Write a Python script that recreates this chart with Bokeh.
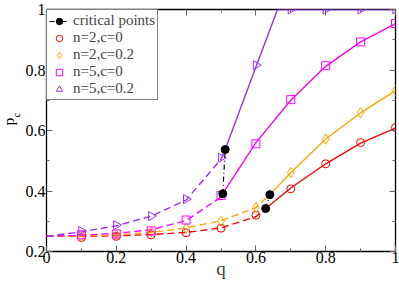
import math
from bokeh.plotting import figure
from bokeh.layouts import row
from bokeh.models import (FixedTicker, CustomJSTickFormatter, LinearAxis, Legend,
                          LegendItem, Range1d)
from bokeh.embed import file_html
from bokeh.resources import INLINE
from bokeh.core.properties import value

# ---------------- data ----------------
q_sim = [0.1, 0.2, 0.3, 0.4, 0.5, 0.6, 0.7, 0.8, 0.9, 1.0]
red_sim = [0.246, 0.250, 0.255, 0.262, 0.277, 0.320, 0.407, 0.490, 0.560, 0.610]
orange_sim = [0.250, 0.255, 0.265, 0.277, 0.300, 0.346, 0.461, 0.572, 0.659, 0.732]
magenta_sim = [0.255, 0.258, 0.268, 0.304, 0.385, 0.556, 0.702, 0.814, 0.893, 0.954]
purple_sim = [0.268, 0.287, 0.317, 0.373, 0.510, 0.816, 1.0, 1.0, 1.0, 1.0]

# theory curves: dashed (below critical point) and solid (above)
red_dash_q = [0.0, 0.1, 0.2, 0.3, 0.4, 0.5, 0.6, 0.628]
red_dash_p = [0.250, 0.250, 0.252, 0.256, 0.263, 0.278, 0.315, 0.342]
red_sol_q = [0.628, 0.7, 0.8, 0.9, 1.0]
red_sol_p = [0.342, 0.410, 0.490, 0.558, 0.608]

orange_dash_q = [0.0, 0.1, 0.2, 0.3, 0.4, 0.5, 0.6, 0.64]
orange_dash_p = [0.250, 0.251, 0.255, 0.263, 0.278, 0.302, 0.345, 0.388]
orange_sol_q = [0.64, 0.7, 0.8, 0.9, 1.0]
orange_sol_p = [0.388, 0.460, 0.572, 0.658, 0.732]

magenta_dash_q = [0.0, 0.1, 0.2, 0.3, 0.4, 0.5, 0.505]
magenta_dash_p = [0.250, 0.254, 0.260, 0.272, 0.302, 0.380, 0.391]
magenta_sol_q = [0.505, 0.6, 0.7, 0.8, 0.9, 1.0]
magenta_sol_p = [0.391, 0.560, 0.700, 0.812, 0.893, 0.953]

purple_dash_q = [0.0, 0.1, 0.2, 0.3, 0.4, 0.5, 0.512]
purple_dash_p = [0.250, 0.265, 0.285, 0.317, 0.370, 0.505, 0.537]
purple_sol_q = [0.512, 0.6, 0.662, 1.0]
purple_sol_p = [0.537, 0.810, 1.0, 1.0]

# critical points (c=0 and c=0.2 for each n)
crit_n2_q = [0.628, 0.640]
crit_n2_p = [0.342, 0.388]
crit_n5_q = [0.505, 0.512]
crit_n5_p = [0.391, 0.537]

x_ticks = [0.0, 0.2, 0.4, 0.6, 0.8, 1.0]
x_minor = [0.1, 0.3, 0.5, 0.7, 0.9]
y_ticks = [0.2, 0.4, 0.6, 0.8, 1.0]
y_minor = [0.3, 0.5, 0.7, 0.9]

series_labels = ["n=2,c=0", "n=2,c=0.2", "n=5,c=0", "n=5,c=0.2"]
x_label = "q"
y_label_main, y_label_sub = "p", "c"

RED, ORANGE, MAGENTA, PURPLE = "#ff0000", "#ffa500", "#ff00ff", "#9b30f0"
SERIF = "Liberation Serif"

# --------------- layout ---------------
TOTAL_W, TOTAL_H = 399, 283
LAB_W = 22
W, H = TOTAL_W - LAB_W, TOTAL_H
BL, BR, BT, BB = 21, 4, 9, 32

p = figure(width=W, height=H, x_range=Range1d(0, 1), y_range=Range1d(0.2, 1),
           output_backend="svg", toolbar_location=None,
           min_border_left=BL, min_border_right=BR, min_border_top=BT, min_border_bottom=BB)
p.grid.visible = False
p.outline_line_color = "black"
p.outline_line_width = 1.3

fmt = CustomJSTickFormatter(code="return String(Math.round(tick*10)/10);")
blank = CustomJSTickFormatter(code="return '';")


def style_axis(ax, font=None, standoff=2):
    ax.axis_line_color = None
    ax.major_tick_in = 6
    ax.major_tick_out = 0
    ax.minor_tick_in = 3
    ax.minor_tick_out = 0
    ax.major_tick_line_color = "#666666"
    ax.minor_tick_line_color = "#666666"
    if font:
        ax.formatter = fmt
        ax.major_label_text_font = font
        ax.major_label_text_font_size = "16px"
        ax.major_label_text_color = "black"
        ax.major_label_standoff = standoff
    else:
        ax.formatter = blank
        ax.major_label_standoff = 0


p.xaxis.ticker = FixedTicker(ticks=x_ticks, minor_ticks=x_minor)
p.yaxis.ticker = FixedTicker(ticks=y_ticks, minor_ticks=y_minor)
style_axis(p.xaxis[0], SERIF, 0)
style_axis(p.yaxis[0], SERIF, 1)
p.xaxis.axis_label = x_label
p.xaxis.axis_label_text_font = SERIF
p.xaxis.axis_label_text_font_style = "normal"
p.xaxis.axis_label_text_font_size = "19px"
p.xaxis.axis_label_standoff = -8

top_ax = LinearAxis(ticker=FixedTicker(ticks=x_ticks, minor_ticks=x_minor))
right_ax = LinearAxis(ticker=FixedTicker(ticks=y_ticks, minor_ticks=y_minor))
style_axis(top_ax)
style_axis(right_ax)
p.add_layout(top_ax, "above")
p.add_layout(right_ax, "right")

DASH = "7 4"
LW = 1.4
for q_, p_, c in [(red_dash_q, red_dash_p, RED), (orange_dash_q, orange_dash_p, ORANGE),
                  (magenta_dash_q, magenta_dash_p, MAGENTA), (purple_dash_q, purple_dash_p, PURPLE)]:
    p.line(q_, p_, line_color=c, line_width=LW, line_dash=DASH)
for q_, p_, c in [(red_sol_q, red_sol_p, RED), (orange_sol_q, orange_sol_p, ORANGE),
                  (magenta_sol_q, magenta_sol_p, MAGENTA), (purple_sol_q, purple_sol_p, PURPLE)]:
    p.line(q_, p_, line_color=c, line_width=LW)

r_red = p.scatter(q_sim, red_sim, marker="circle", size=8, fill_color=None, line_color=RED, line_width=1)
r_orange = p.scatter(q_sim, orange_sim, marker="diamond", size=10, fill_color=None, line_color=ORANGE, line_width=1)
r_mag = p.scatter(q_sim, magenta_sim, marker="square", size=8, fill_color=None, line_color=MAGENTA, line_width=1)
r_pur = p.scatter(q_sim, purple_sim, marker="triangle", angle=-math.pi / 2, size=9, fill_color=None,
                  line_color=PURPLE, line_width=1)

crit_line = p.multi_line([crit_n2_q, crit_n5_q], [crit_n2_p, crit_n5_p], line_color="black",
                         line_width=1.2, line_dash="5 3 1 3")
crit_pts = p.scatter(crit_n2_q + crit_n5_q, crit_n2_p + crit_n5_p, marker="circle", size=8,
                     fill_color="black", line_color="black")

legend = Legend(items=[
    LegendItem(label="critical points", renderers=[crit_line, crit_pts]),
    LegendItem(label=series_labels[0], renderers=[r_red]),
    LegendItem(label=series_labels[1], renderers=[r_orange]),
    LegendItem(label=series_labels[2], renderers=[r_mag]),
    LegendItem(label=series_labels[3], renderers=[r_pur]),
], location="top_left")
legend.margin = 0
legend.padding = 2
legend.spacing = 0
legend.glyph_width = 20
legend.glyph_height = 16
legend.label_height = 16
legend.label_standoff = 4
legend.label_text_font = SERIF
legend.label_text_font_size = "15px"
legend.border_line_color = "black"
legend.border_line_width = 1
legend.background_fill_alpha = 1
p.add_layout(legend)

# y-axis label "p_c" drawn in a narrow side figure (pixel coordinates)
lab = figure(width=LAB_W, height=H, x_range=Range1d(0, LAB_W), y_range=Range1d(0, H),
             output_backend="svg", toolbar_location=None, x_axis_type=None, y_axis_type=None,
             min_border_left=0, min_border_right=0, min_border_top=0, min_border_bottom=0)
lab.grid.visible = False
lab.outline_line_color = None
lab.text(x=[8.4], y=[H - 131], text=[y_label_main], angle=math.pi / 2, text_font=value(SERIF),
         text_font_size="15px", text_align="center", text_baseline="middle", text_color="black")
lab.text(x=[15.6], y=[H - 123.5], text=[y_label_sub], angle=math.pi / 2, text_font=value(SERIF),
         text_font_size="10px", text_align="center", text_baseline="middle", text_color="black")

layout = row(lab, p)
open("out.html", "w").write(file_html(layout, INLINE))
